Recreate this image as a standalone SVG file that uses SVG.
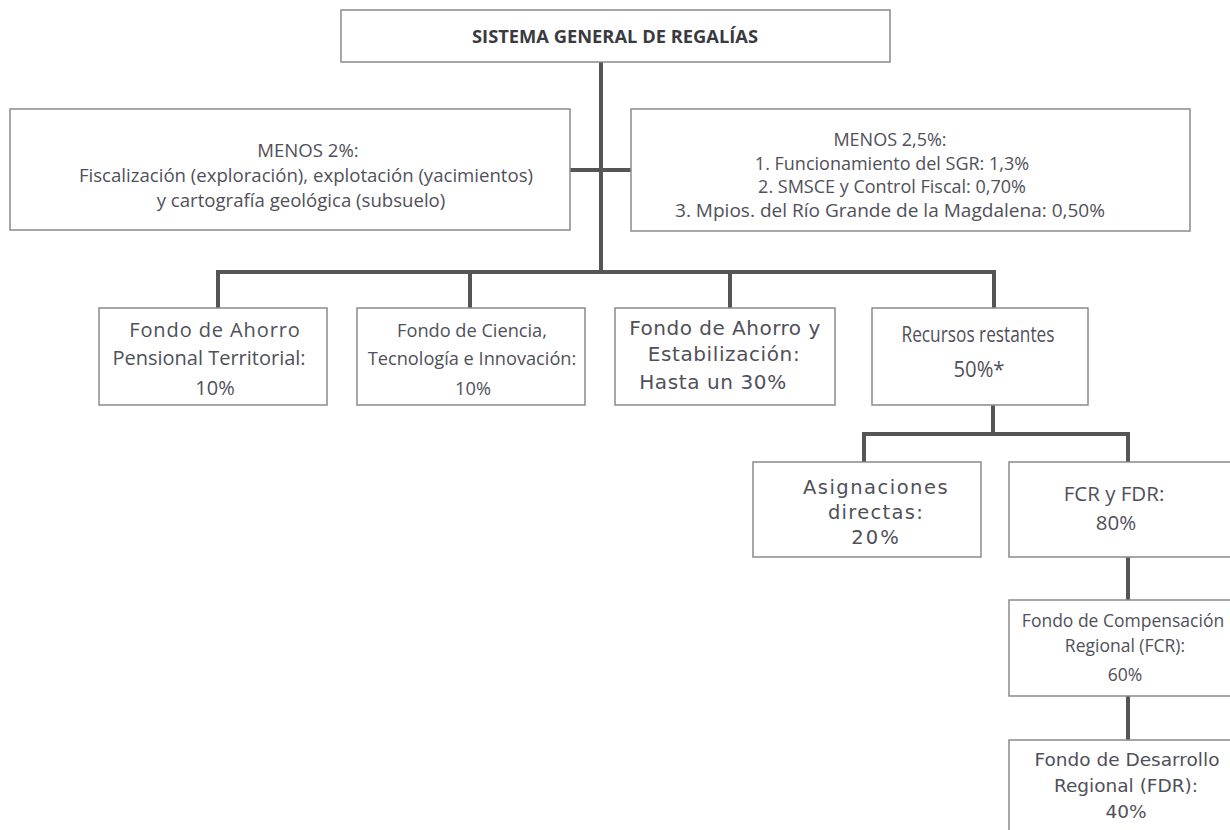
<svg xmlns="http://www.w3.org/2000/svg" width="1230" height="830" viewBox="0 0 1230 830">
<style>
.box{fill:#fff;stroke:#8a8a8a;stroke-width:1.5}
.t{font-family:"Open Sans","Liberation Sans",sans-serif;fill:#50505a;text-anchor:middle}
.d{font-family:"DejaVu Sans","Liberation Sans",sans-serif;fill:#50505a;text-anchor:middle}
.wire{fill:none;stroke:#555;stroke-width:4}
</style>
<rect width="1230" height="830" fill="#fff"/>
<g id="connectors">
<path class="wire" d="M601 62V272M570 170H631M218 308V272H994V308M470 272V308M730 272V308"/>
<path class="wire" d="M993 405V434M864 462V434H1128V462M1128 557V600M1128 696V740"/>
</g>
<g id="sgr"><rect class="box" x="341" y="10" width="549" height="52"/>
<text class="t" x="615" y="43" textLength="286" lengthAdjust="spacingAndGlyphs" style="font-size:17px;font-weight:bold;fill:#3a3a40">SISTEMA GENERAL DE REGALÍAS</text></g>
<g id="menos2" style="font-size:18.6px"><rect class="box" x="10" y="109" width="560" height="121"/>
<text class="t" x="308" y="157">MENOS 2%:</text>
<text class="t" x="306" y="182">Fiscalización (exploración), explotación (yacimientos)</text>
<text class="t" x="301" y="207">y cartografía geológica (subsuelo)</text></g>
<g id="menos25" style="font-size:18px"><rect class="box" x="631" y="109" width="559" height="122"/>
<text class="t" x="890" y="146">MENOS 2,5%:</text>
<text class="t" x="892" y="169.5">1. Funcionamiento del SGR: 1,3%</text>
<text class="t" x="892" y="193">2. SMSCE y Control Fiscal: 0,70%</text>
<text class="t" x="890" y="216.5" textLength="430" lengthAdjust="spacingAndGlyphs">3. Mpios. del Río Grande de la Magdalena: 0,50%</text></g>
<g id="fonpet" style="font-size:20px"><rect class="box" x="99" y="308" width="228" height="97"/>
<text class="t" x="215" y="337" letter-spacing="0.9">Fondo de Ahorro</text>
<text class="t" x="209" y="365">Pensional Territorial:</text>
<text class="t" x="215" y="395">10%</text></g>
<g id="fcti" style="font-size:18.2px"><rect class="box" x="357" y="308" width="228" height="97"/>
<text class="t" x="472" y="337">Fondo de Ciencia,</text>
<text class="t" x="472" y="365">Tecnología e Innovación:</text>
<text class="t" x="473" y="395">10%</text></g>
<g id="fae" style="font-size:20px"><rect class="box" x="615" y="308" width="220" height="97"/>
<text class="d" x="725" y="335" letter-spacing="0.5">Fondo de Ahorro y</text>
<text class="d" x="724" y="361" letter-spacing="0.6">Estabilización:</text>
<text class="d" x="713" y="389" letter-spacing="0.6">Hasta un 30%</text></g>
<g id="restantes"><rect class="box" x="872" y="308" width="216" height="97"/>
<text class="t" x="978" y="342" style="font-size:21px" textLength="153" lengthAdjust="spacingAndGlyphs">Recursos restantes</text>
<text class="t" x="979" y="377" style="font-size:21px" textLength="51" lengthAdjust="spacingAndGlyphs">50%*</text></g>
<g id="asignaciones" style="font-size:19.5px"><rect class="box" x="753" y="462" width="228" height="95"/>
<text class="d" x="876" y="494" letter-spacing="1.5">Asignaciones</text>
<text class="d" x="876" y="519" letter-spacing="1.3">directas:</text>
<text class="d" x="876" y="544" letter-spacing="2">20%</text></g>
<g id="fcrfdr" style="font-size:20.5px"><rect class="box" x="1009" y="462" width="230" height="95"/>
<text class="t" x="1114" y="501">FCR y FDR:</text>
<text class="t" x="1116" y="530">80%</text></g>
<g id="fcr" style="font-size:17.5px"><rect class="box" x="1009" y="600" width="230" height="96"/>
<text class="t" x="1123" y="627">Fondo de Compensación</text>
<text class="t" x="1125" y="652">Regional (FCR):</text>
<text class="t" x="1125" y="681">60%</text></g>
<g id="fdr" style="font-size:18.5px"><rect class="box" x="1009" y="740" width="230" height="100"/>
<text class="d" x="1127" y="766">Fondo de Desarrollo</text>
<text class="d" x="1126" y="792">Regional (FDR):</text>
<text class="d" x="1126" y="818">40%</text></g>
</svg>
